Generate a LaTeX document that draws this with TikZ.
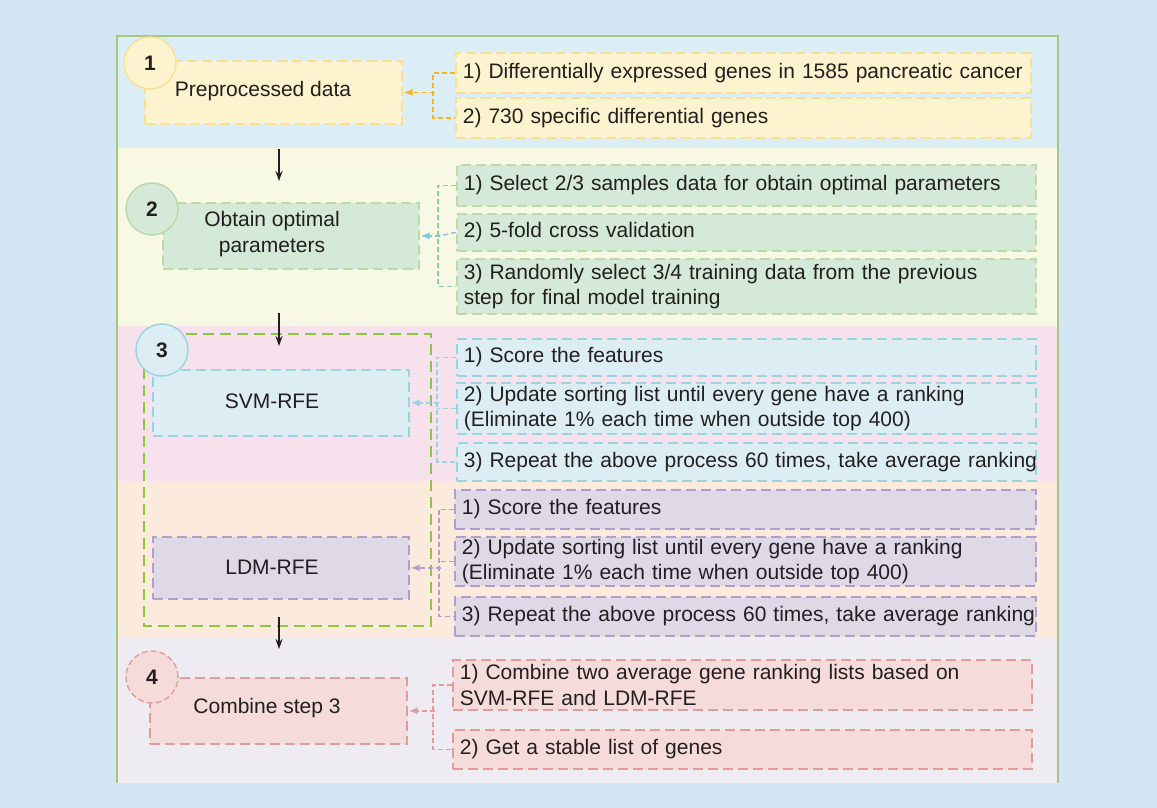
\documentclass[tikz,border=0pt]{standalone}
\usepackage{fontspec}
\setmainfont{Liberation Sans}
\usetikzlibrary{arrows.meta,calc}
\definecolor{bgout}{HTML}{D4E6F4}
\definecolor{bandA}{HTML}{DCEEF5}
\definecolor{bandB}{HTML}{F7F9E4}
\definecolor{bandC}{HTML}{F6E1EC}
\definecolor{bandD}{HTML}{FCEBDD}
\definecolor{bandE}{HTML}{EEEBF2}
\definecolor{framegreen}{HTML}{A6C77F}
\definecolor{txt}{HTML}{231F20}
\definecolor{yfill}{HTML}{FDF3CE}
\definecolor{ydraw}{HTML}{F8DF95}
\definecolor{yconn}{HTML}{F2B52A}
\definecolor{gfill}{HTML}{D4E9D7}
\definecolor{gdraw}{HTML}{BCD9A8}
\definecolor{gconn}{HTML}{82D0B6}
\definecolor{bconn}{HTML}{80C6DE}
\definecolor{bfill}{HTML}{DCEEF4}
\definecolor{bdraw}{HTML}{9CD3E1}
\definecolor{greendash}{HTML}{8DC63F}
\definecolor{pfill}{HTML}{DED8E7}
\definecolor{pdraw}{HTML}{AE9FCB}
\definecolor{rfill}{HTML}{F5DBDA}
\definecolor{rdraw}{HTML}{E19E98}
\begin{document}
\begin{tikzpicture}[x=1pt,y=-1pt,
  lbl/.style={font=\fontsize{21}{25.5}\selectfont, text=txt},
  boxline/.style={line width=1.7pt, dash pattern=on 10pt off 5pt},
  rbox/.style={boxline, lbl, anchor=north west, align=left, inner xsep=7pt, inner ysep=0pt},
  mbox/.style={boxline, anchor=north west, inner sep=0pt},
  num/.style={circle, line width=1.4pt, minimum size=52pt, inner sep=0pt, font=\fontsize{21}{21}\selectfont\bfseries, text=txt},
  conn/.style={line width=1.4pt, dash pattern=on 5pt off 3pt},
  arr/.style={conn, -{Latex[length=9pt,width=7pt]}, shorten >=1pt},
  blk/.style={line width=1.3pt, draw=txt, -{Stealth[length=10pt,width=7pt]}},
  sA/.style={fill=yfill, draw=ydraw},
  sB/.style={fill=gfill, draw=gdraw},
  sC/.style={fill=bfill, draw=bdraw},
  sD/.style={fill=pfill, draw=pdraw},
  sE/.style={fill=rfill, draw=rdraw}
]
\useasboundingbox (0,0) rectangle (1157,808);
\fill[bgout] (0,0) rectangle (1157,808);
% bands
\fill[bandA] (117,36) rectangle (1058,148);
\fill[bandB] (117,148) rectangle (1058,326);
\fill[bandC] (117,326) rectangle (1058,481);
\fill[bandD] (117,481) rectangle (1058,637);
\fill[bandE] (117,637) rectangle (1058,783);
\draw[framegreen, line width=1.6pt] (117,783) -- (117,36) -- (1058,36) -- (1058,783);
% group of step 3
\draw[greendash, line width=1.6pt, dash pattern=on 11pt off 6pt] (144,334) rectangle (431,626);

% main boxes
\node[mbox, sA, minimum width=257pt, minimum height=63pt] (m1) at (144,60) {};
\node[mbox, sB, minimum width=256pt, minimum height=66pt] (m2) at (162,202) {};
\node[mbox, sC, minimum width=256pt, minimum height=66pt] (m3) at (152,369) {};
\node[mbox, sD, minimum width=256pt, minimum height=62pt] (m4) at (152,536) {};
\node[mbox, sE, minimum width=257pt, minimum height=66pt] (m5) at (149,677) {};
\node[lbl] (t1) at (263,91) {Preprocessed data};
\node[lbl, align=center] (t2) at (272,234) {Obtain optimal\\parameters};
\node[lbl] (t3) at (272,401) {SVM-RFE};
\node[lbl] (t4) at (272,567) {LDM-RFE};
\node[lbl] (t5) at (267,708) {Combine step 3};

% number circles
\node[num, fill=yfill, draw=ydraw] (c1) at (150,63) {1};
\node[num, fill=gfill, draw=gdraw] (c2) at (152,209) {2};
\node[num, fill=bfill, draw=bdraw] (c3) at (162,350) {3};
\node[num, fill=rfill, draw=rdraw, dash pattern=on 6pt off 3pt] (c4) at (152,677) {4};

% right boxes
\node[rbox, sA, text width=561pt, minimum height=40pt] (r11) at (455,52) {\mbox{1) Differentially expressed genes in 1585 pancreatic cancer}};
\node[rbox, sA, text width=561pt, minimum height=40pt] (r12) at (455,97) {\mbox{2) 730 specific differential genes}};

\node[rbox, sB, text width=565pt, minimum height=41pt] (r21) at (456,164) {\mbox{1) Select 2/3 samples data for obtain optimal parameters}};
\node[rbox, sB, text width=565pt, minimum height=37pt] (r22) at (456,213) {\mbox{2) 5-fold cross validation}};
\node[rbox, sB, text width=565pt, minimum height=55pt] (r23) at (456,258) {\mbox{3) Randomly select 3/4 training data from the previous}\\\mbox{step for final model training}};

\node[rbox, sC, text width=565pt, minimum height=37pt] (r31) at (456,338) {\mbox{1) Score the features}};
\node[rbox, sC, text width=565pt, minimum height=51pt] (r32) at (456,382) {\mbox{2) Update sorting list until every gene have a ranking}\\\mbox{(Eliminate 1\% each time when outside top 400)}};
\node[rbox, sC, text width=565pt, minimum height=38pt] (r33) at (456,442) {\mbox{3) Repeat the above process 60 times, take average ranking}};

\node[rbox, sD, text width=567pt, minimum height=39pt] (r41) at (454,489) {\mbox{1) Score the features}};
\node[rbox, sD, text width=567pt, minimum height=49pt] (r42) at (454,536) {\mbox{2) Update sorting list until every gene have a ranking}\\\mbox{(Eliminate 1\% each time when outside top 400)}};
\node[rbox, sD, text width=567pt, minimum height=39pt] (r43) at (454,596) {\mbox{3) Repeat the above process 60 times, take average ranking}};

\node[rbox, sE, text width=565pt, minimum height=50pt] (r51) at (452,659) {\mbox{1) Combine two average gene ranking lists based on}\\\mbox{SVM-RFE and LDM-RFE}};
\node[rbox, sE, text width=565pt, minimum height=39pt] (r52) at (452,729) {\mbox{2) Get a stable list of genes}};

% connectors
\coordinate (k1) at ($(m1.east)+(32,0)$);
\draw[conn, yconn] (r11.west) -- ++(-22,0) |- (r12.west);
\draw[arr, yconn] (k1) -- (m1.east);

\coordinate (k2) at ($(m2.east)+(20,0)$);
\draw[conn, gconn] (r21.west) -- ++(-18,0) |- (r23.west);
\draw[conn, bconn] (r22.west) -- (k2);
\draw[arr, bconn] (k2) -- (m2.east);

\coordinate (k3) at ($(m3.east)+(29,0)$);
\draw[conn, bdraw] (r31.west) -- ++(-19,0) |- (r33.west);
\draw[conn, bdraw] (r32.west) -- ++(-19,0);
\draw[arr, bdraw] (k3) -- (m3.east);

\coordinate (k4) at ($(m4.east)+(31,0)$);
\draw[conn, pdraw] (r41.west) -- ++(-15,0) |- (r43.west);
\draw[conn, pdraw] (r42.west) -- ++(-15,0);
\draw[arr, pdraw] (k4) -- (m4.east);

\coordinate (k5) at ($(m5.east)+(27,0)$);
\draw[conn, rdraw] (r51.west) -- ++(-19,0) |- (r52.west);
\draw[arr, rdraw] (k5) -- (m5.east);

% black arrows between steps
\coordinate (a1s) at (279,149);
\coordinate (a1e) at (279,181);
\coordinate (a2s) at (279,313);
\coordinate (a2e) at (279,346);
\coordinate (a3s) at (279,617);
\coordinate (a3e) at (279,649);
\draw[blk] (a1s) -- (a1e);
\draw[blk] (a2s) -- (a2e);
\draw[blk] (a3s) -- (a3e);
\end{tikzpicture}
\end{document}
